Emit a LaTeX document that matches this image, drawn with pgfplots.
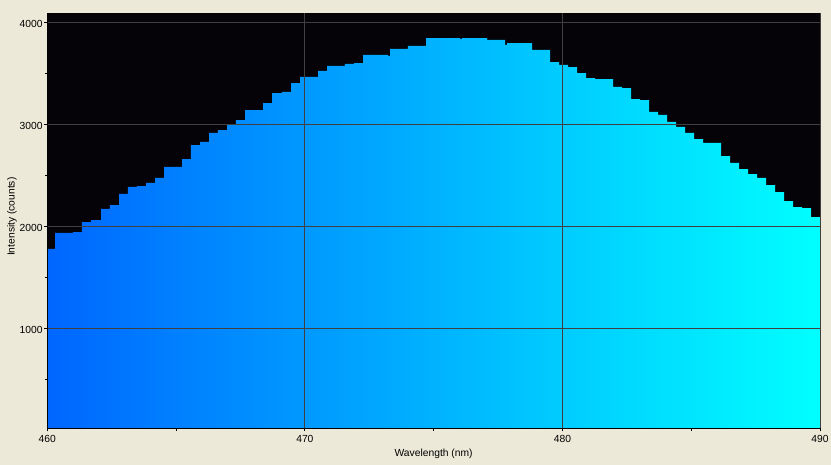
\documentclass[border=0pt]{standalone}
\usepackage{pgfplots}
\pgfplotsset{compat=1.18}
\usepackage{fontspec}
\setmainfont{Liberation Sans}
\definecolor{bgc}{HTML}{ECE9D8}
\definecolor{plotbg}{HTML}{050308}
\definecolor{gridc}{HTML}{404040}
\definecolor{cleft}{HTML}{0066FF}
\definecolor{cright}{HTML}{00FFFF}
\begin{document}
\begin{tikzpicture}
\path[use as bounding box, fill=bgc] (0,0) rectangle (831bp,465bp);
\begin{axis}[
  at={(47.3bp,36.7bp)}, anchor=south west,
  scale only axis, width=772.7bp, height=415bp,
  xmin=460, xmax=490, ymin=20, ymax=4088.5,
  axis background/.style={fill=plotbg},
  axis x line*=bottom, axis y line*=left,
  axis line style={black, line width=1bp, -},
  xtick={460,470,480,490}, minor xtick={465,475,485},
  ytick={1000,2000,3000,4000}, minor ytick={500,1500,2500,3500},
  grid=major, major grid style={gridc, line width=1bp},
  minor grid style={draw=none},
  axis on top,
  tick align=outside,
  major tick length=3bp, minor tick length=2.5bp,
  every tick/.style={black, line width=1bp},
  scaled ticks=false,
  /pgf/number format/1000 sep={},
  /pgf/number format/assume math mode=true,
  tick label style={font=\fontsize{10.3bp}{12bp}\selectfont, inner sep=0pt},
  xticklabel style={anchor=center, yshift=-8bp},
  yticklabel style={anchor=east, xshift=-1.5bp, yshift=-2bp},
  label style={font=\fontsize{10.3bp}{12bp}\selectfont},
  xlabel={Wavelength (nm)},
  ylabel={Intensity (counts)},
  xlabel style={at={(axis description cs:0.5,0)}, anchor=center, yshift=-25.2bp},
  ylabel style={at={(axis description cs:0,0.51)}, anchor=center, yshift=35.3bp},
]
\addplot[const plot mark left, draw=none, left color=cleft, right color=cright] table {
x y
460.000 1778
460.299 1935
460.998 1944
461.347 2042
461.697 2062
462.085 2170
462.434 2209
462.784 2317
463.133 2386
463.483 2395
463.832 2425
464.182 2474
464.531 2582
465.230 2660
465.579 2797
465.929 2827
466.278 2915
466.627 2944
466.977 2993
467.326 3042
467.676 3140
468.375 3209
468.724 3307
469.112 3317
469.462 3405
469.811 3464
470.510 3523
470.860 3572
471.558 3592
471.908 3601
472.257 3680
473.228 3670
473.306 3739
474.004 3768
474.703 3846
476.024 3837
476.101 3846
477.072 3827
477.771 3778
477.849 3797
478.819 3729
479.518 3611
479.867 3582
480.217 3562
480.566 3503
480.916 3454
481.265 3444
481.964 3366
482.313 3356
482.663 3248
483.012 3238
483.361 3121
483.711 3092
484.060 3023
484.410 2974
484.759 2915
485.109 2856
485.458 2817
486.157 2689
486.506 2621
486.856 2562
487.205 2513
487.555 2474
487.904 2405
488.254 2336
488.603 2248
488.952 2189
489.302 2179
489.651 2091
490.000 2091
} \closedcycle;
\end{axis}
\end{tikzpicture}
\end{document}
